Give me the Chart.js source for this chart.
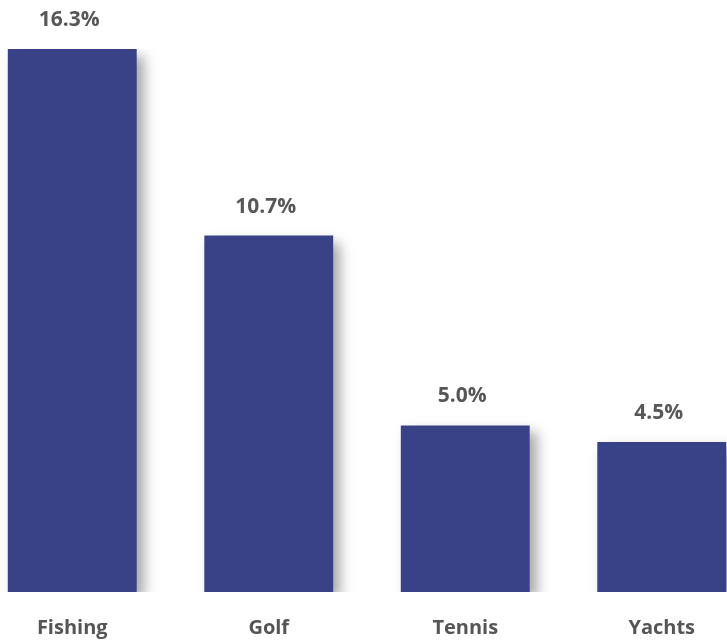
<!DOCTYPE html>
<html lang="en">
<head>
    <meta charset="UTF-8">
    <title>Sports Share</title>
    <script src="https://cdn.jsdelivr.net/npm/chart.js"></script>
    <style>
        html, body { margin: 0; padding: 0; overflow: hidden; background: #fff; }
        #wrap { position: absolute; left: -26px; top: 0; width: 786px; height: 643px; }
    </style>
</head>
<body>
    <div id="wrap"><canvas id="sportsChart" width="786" height="643"></canvas></div>

    <script>
        const categories = ['Fishing', 'Golf', 'Tennis', 'Yachts'];
        const shares = [16.3, 10.7, 5.0, 4.5];
        const shareLabels = ['16.3%', '10.7%', '5.0%', '4.5%'];

        // soft drop shadow behind the bars
        const barShadow = {
            id: 'barShadow',
            beforeDatasetsDraw(chart) {
                const c = chart.ctx;
                c.save();
                c.shadowColor = 'rgba(0, 0, 0, 0.35)';
                c.shadowBlur = 12;
                c.shadowOffsetX = 7;
                c.shadowOffsetY = 7;
            },
            afterDatasetsDraw(chart) {
                chart.ctx.restore();
            }
        };

        // value text above each bar
        const valueLabels = {
            id: 'valueLabels',
            afterDraw(chart) {
                const c = chart.ctx;
                const meta = chart.getDatasetMeta(0);
                c.save();
                c.font = 'bold 21px "Open Sans"';
                c.fillStyle = '#575757';
                c.textAlign = 'center';
                c.textBaseline = 'middle';
                meta.data.forEach((bar, i) => {
                    c.fillText(shareLabels[i], bar.x - 3, bar.y - 29);
                });
                c.restore();
            }
        };

        const ctx = document.getElementById('sportsChart').getContext('2d');
        new Chart(ctx, {
            type: 'bar',
            data: {
                labels: categories,
                datasets: [{
                    data: shares,
                    backgroundColor: '#394287',
                    categoryPercentage: 1,
                    barPercentage: 0.656
                }]
            },
            options: {
                responsive: false,
                animation: false,
                layout: { padding: { top: 49, bottom: -21 } },
                plugins: {
                    legend: { display: false },
                    tooltip: { enabled: false }
                },
                scales: {
                    x: {
                        grid: { display: false, drawTicks: false },
                        border: { display: false },
                        ticks: {
                            color: '#555555',
                            font: { family: 'Open Sans', size: 20, weight: 'bold' },
                            padding: 24
                        }
                    },
                    y: {
                        display: false,
                        min: 0,
                        max: 16.3
                    }
                }
            },
            plugins: [barShadow, valueLabels]
        });
    </script>
</body>
</html>
